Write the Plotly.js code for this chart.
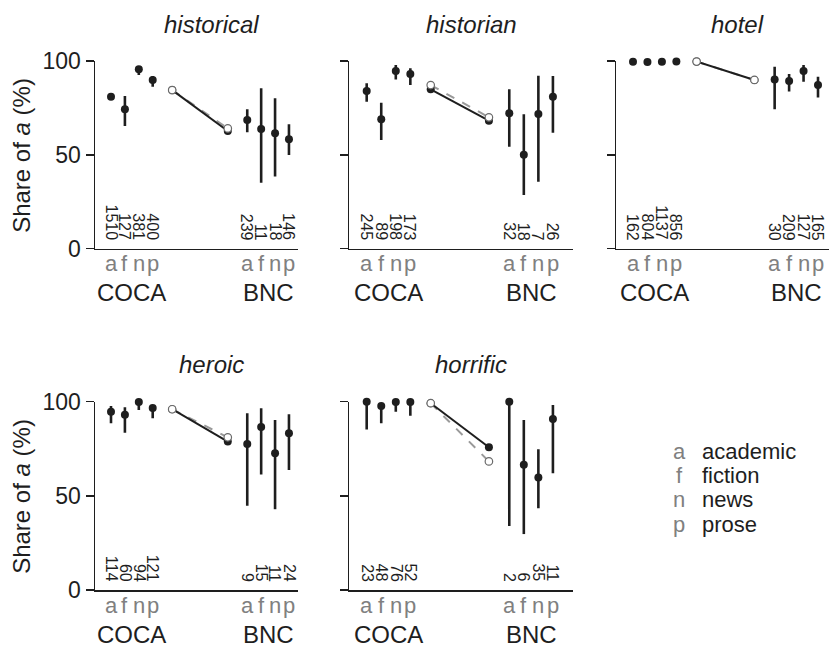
<!DOCTYPE html>
<html><head><meta charset="utf-8">
<script src="https://cdn.plot.ly/plotly-3.0.1.min.js"></script>
<style>html,body{margin:0;padding:0;background:#fff}#chart{width:829px;height:648px}</style>
</head><body><div id="chart"></div>
<script>
// ---------------- data ----------------
const words = ["historical", "historian", "hotel", "heroic", "horrific"];
const registers = ["a", "f", "n", "p"];
const registerNames = ["academic", "fiction", "news", "prose"];
const corpora = ["COCA", "BNC"];
const yTicks = [0, 50, 100];

// historical
const historicalCoca = [81.0, 74.3, 95.6, 89.9];
const historicalCocaLo = [79.6, 65.4, 92.5, 86.3];
const historicalCocaHi = [82.3, 81.4, 97.0, 92.0];
const historicalBnc = [68.6, 63.8, 61.5, 58.3];
const historicalBncLo = [62.0, 35.2, 38.4, 49.9];
const historicalBncHi = [74.3, 85.5, 80.1, 66.3];
const historicalCocaN = [1510, 127, 381, 400];
const historicalBncN = [239, 11, 18, 146];
const historicalOverall = [84.5, 62.7];
const historicalWeighted = [84.5, 64.1];

// historian
const historianCoca = [84.0, 68.9, 94.7, 93.1];
const historianCocaLo = [78.3, 57.9, 90.2, 87.2];
const historianCocaHi = [88.2, 77.8, 97.9, 96.1];
const historianBnc = [72.1, 50.1, 71.8, 81.0];
const historianBncLo = [54.3, 28.6, 35.7, 61.8];
const historianBncHi = [84.9, 71.6, 92.2, 92.0];
const historianCocaN = [245, 89, 198, 173];
const historianBncN = [32, 18, 7, 26];
const historianOverall = [84.9, 68.2];
const historianWeighted = [87.2, 70.0];

// hotel
const hotelCoca = [99.6, 99.5, 99.6, 99.7];
const hotelCocaLo = [98.3, 99.0, 99.2, 99.3];
const hotelCocaHi = [100, 99.9, 99.9, 100];
const hotelBnc = [90.2, 89.3, 94.7, 87.2];
const hotelBncLo = [74.3, 83.7, 89.0, 80.5];
const hotelBncHi = [97.0, 93.1, 97.9, 91.6];
const hotelCocaN = [162, 804, 1137, 856];
const hotelBncN = [30, 209, 127, 165];
const hotelOverall = [99.7, 89.9];
const hotelWeighted = [99.7, 89.9];

// heroic
const heroicCoca = [94.7, 93.1, 99.8, 96.7];
const heroicCocaLo = [88.5, 83.5, 95.6, 91.2];
const heroicCocaHi = [97.7, 97.0, 100, 98.2];
const heroicBnc = [77.5, 86.6, 72.6, 83.2];
const heroicBncLo = [44.8, 61.4, 42.9, 63.7];
const heroicBncHi = [93.8, 96.5, 90.3, 93.3];
const heroicCocaN = [114, 60, 94, 121];
const heroicBncN = [9, 15, 11, 24];
const heroicOverall = [96.0, 78.8];
const heroicWeighted = [96.0, 81.1];

// horrific
const horrificCoca = [100, 97.7, 99.8, 99.8];
const horrificCocaLo = [85.3, 88.5, 94.7, 92.6];
const horrificCocaHi = [100, 99.2, 100, 100];
const horrificBnc = [100, 66.5, 59.8, 90.8];
const horrificBncLo = [34.0, 29.7, 43.4, 62.0];
const horrificBncHi = [100, 90.3, 74.7, 98.2];
const horrificCocaN = [23, 48, 76, 52];
const horrificBncN = [2, 6, 35, 11];
const horrificOverall = [99.2, 75.8];
const horrificWeighted = [99.2, 68.3];

const panels = [
  {coca: historicalCoca, cocaLo: historicalCocaLo, cocaHi: historicalCocaHi, bnc: historicalBnc, bncLo: historicalBncLo, bncHi: historicalBncHi, cocaN: historicalCocaN, bncN: historicalBncN, overall: historicalOverall, weighted: historicalWeighted},
  {coca: historianCoca, cocaLo: historianCocaLo, cocaHi: historianCocaHi, bnc: historianBnc, bncLo: historianBncLo, bncHi: historianBncHi, cocaN: historianCocaN, bncN: historianBncN, overall: historianOverall, weighted: historianWeighted},
  {coca: hotelCoca, cocaLo: hotelCocaLo, cocaHi: hotelCocaHi, bnc: hotelBnc, bncLo: hotelBncLo, bncHi: hotelBncHi, cocaN: hotelCocaN, bncN: hotelBncN, overall: hotelOverall, weighted: hotelWeighted},
  {coca: heroicCoca, cocaLo: heroicCocaLo, cocaHi: heroicCocaHi, bnc: heroicBnc, bncLo: heroicBncLo, bncHi: heroicBncHi, cocaN: heroicCocaN, bncN: heroicBncN, overall: heroicOverall, weighted: heroicWeighted},
  {coca: horrificCoca, cocaLo: horrificCocaLo, cocaHi: horrificCocaHi, bnc: horrificBnc, bncLo: horrificBncLo, bncHi: horrificBncHi, cocaN: horrificCocaN, bncN: horrificBncN, overall: horrificOverall, weighted: horrificWeighted}
];

// ---------------- layout geometry ----------------
const W = 829, H = 648;
const FONT = "Liberation Sans, Arial, Helvetica, sans-serif";
const INK = "#1e1e1e";
const GRAY = "#808080";
const colDomPx = [[95, 298], [349, 573], [616, 829]];
const colRange = [[-0.151, 14.45], [-0.216, 15.18], [-0.176, 14.56]];
const rowDomPx = [[61, 248.7], [401.7, 590]];
const cocaX = [1, 2, 3, 4];
const linkX = [5.4, 9.4];
const bncX = [10.8, 11.8, 12.8, 13.8];
const py = p => (H - p) / H;
const px = p => p / W;

const traces = [];
const annotations = [];
const layout = {
  width: W, height: H,
  margin: {l: 0, r: 0, t: 0, b: 0},
  paper_bgcolor: "#fff", plot_bgcolor: "#fff",
  showlegend: false,
  font: {family: FONT, color: INK}
};

panels.forEach((d, i) => {
  const row = i < 3 ? 0 : 1, col = i % 3;
  const k = i === 0 ? "" : String(i + 1);
  const xa = "x" + k, ya = "y" + k;
  layout["xaxis" + k] = {
    domain: [px(colDomPx[col][0]), px(colDomPx[col][1])],
    range: colRange[col], anchor: ya,
    showline: true, linecolor: INK, linewidth: 1.5,
    showgrid: false, zeroline: false, ticks: "", showticklabels: false, fixedrange: true
  };
  layout["yaxis" + k] = {
    domain: [py(rowDomPx[row][1]), py(rowDomPx[row][0])],
    range: [0, 100], anchor: xa,
    showline: true, linecolor: INK, linewidth: 1.5,
    showgrid: false, zeroline: false,
    ticks: "outside", ticklen: 8, tickwidth: 1.5, tickcolor: INK,
    tickvals: yTicks, ticktext: yTicks.map(String),
    showticklabels: col === 0,
    tickfont: {family: FONT, size: 23, color: INK}, fixedrange: true
  };

  // gray dashed weighted link (below)
  traces.push({x: linkX, y: d.weighted, xaxis: xa, yaxis: ya, type: "scatter", mode: "lines",
    line: {color: "#9a9a9a", width: 2, dash: "dash"}, cliponaxis: false, hoverinfo: "skip"});
  // black overall link with filled markers
  traces.push({x: linkX, y: d.overall, xaxis: xa, yaxis: ya, type: "scatter", mode: "lines+markers",
    line: {color: INK, width: 2}, marker: {color: INK, size: 8}, cliponaxis: false, hoverinfo: "skip"});
  // open markers for weighted
  traces.push({x: linkX, y: d.weighted, xaxis: xa, yaxis: ya, type: "scatter", mode: "markers",
    marker: {color: "#fff", size: 7.5, line: {color: "#6a6a6a", width: 1.2}}, cliponaxis: false, hoverinfo: "skip"});

  // register points with intervals
  [[cocaX, d.coca, d.cocaLo, d.cocaHi], [bncX, d.bnc, d.bncLo, d.bncHi]].forEach(([xs, m, lo, hi]) => {
    traces.push({x: xs, y: m, xaxis: xa, yaxis: ya, type: "scatter", mode: "markers",
      marker: {color: INK, size: 8},
      error_y: {type: "data", symmetric: false,
        array: m.map((v, j) => hi[j] - v), arrayminus: m.map((v, j) => v - lo[j]),
        color: INK, thickness: 2.6, width: 0},
      cliponaxis: false, hoverinfo: "skip"});
  });

  // counts (rotated)
  [[cocaX, d.cocaN], [bncX, d.bncN]].forEach(([xs, ns]) => {
    ns.forEach((n, j) => annotations.push({
      x: xs[j], y: 3.8, xref: xa, yref: ya, text: String(n), showarrow: false,
      textangle: 90, xanchor: "center", yanchor: "bottom", borderpad: 0,
      font: {family: FONT, size: 16, color: INK}
    }));
  });

  // register letters below axis and corpus names
  const axisPx = rowDomPx[row][1];
  [[cocaX, 0], [bncX, 1]].forEach(([xs, c]) => {
    xs.forEach((xv, j) => annotations.push({
      x: xv, y: py(axisPx + 15), xref: xa, yref: "paper", text: registers[j], showarrow: false,
      xanchor: "center", yanchor: "middle", font: {family: FONT, size: 22, color: GRAY}
    }));
    annotations.push({
      x: (xs[0] + xs[3]) / 2, y: py(axisPx + 44), xref: xa, yref: "paper", text: corpora[c], showarrow: false,
      xanchor: "center", yanchor: "middle", font: {family: FONT, size: 24, color: INK}
    });
  });

  // panel title
  annotations.push({
    x: 8.2, y: py(row === 0 ? 25 : 365), xref: xa, yref: "paper", text: "<i>" + words[i] + "</i>",
    showarrow: false, xanchor: "center", yanchor: "middle", font: {family: FONT, size: 24, color: INK}
  });

  // y title
  if (col === 0) {
    annotations.push({
      x: px(22), y: py((rowDomPx[row][0] + rowDomPx[row][1]) / 2 + 1), xref: "paper", yref: "paper",
      text: "Share of <i>a</i> (%)", textangle: -90, showarrow: false,
      xanchor: "center", yanchor: "middle", font: {family: FONT, size: 24, color: INK}
    });
  }
});

// legend key
const legendRowsPx = [451, 475, 499, 524];
registers.forEach((r, j) => {
  annotations.push({x: px(679), y: py(legendRowsPx[j]), xref: "paper", yref: "paper", text: r,
    showarrow: false, xanchor: "center", yanchor: "middle", font: {family: FONT, size: 22, color: GRAY}});
  annotations.push({x: px(700), y: py(legendRowsPx[j]), xref: "paper", yref: "paper", text: registerNames[j],
    showarrow: false, xanchor: "left", yanchor: "middle", font: {family: FONT, size: 22, color: INK}});
});

layout.annotations = annotations;
Plotly.newPlot("chart", traces, layout, {staticPlot: true, displayModeBar: false});
</script>
</body></html>
